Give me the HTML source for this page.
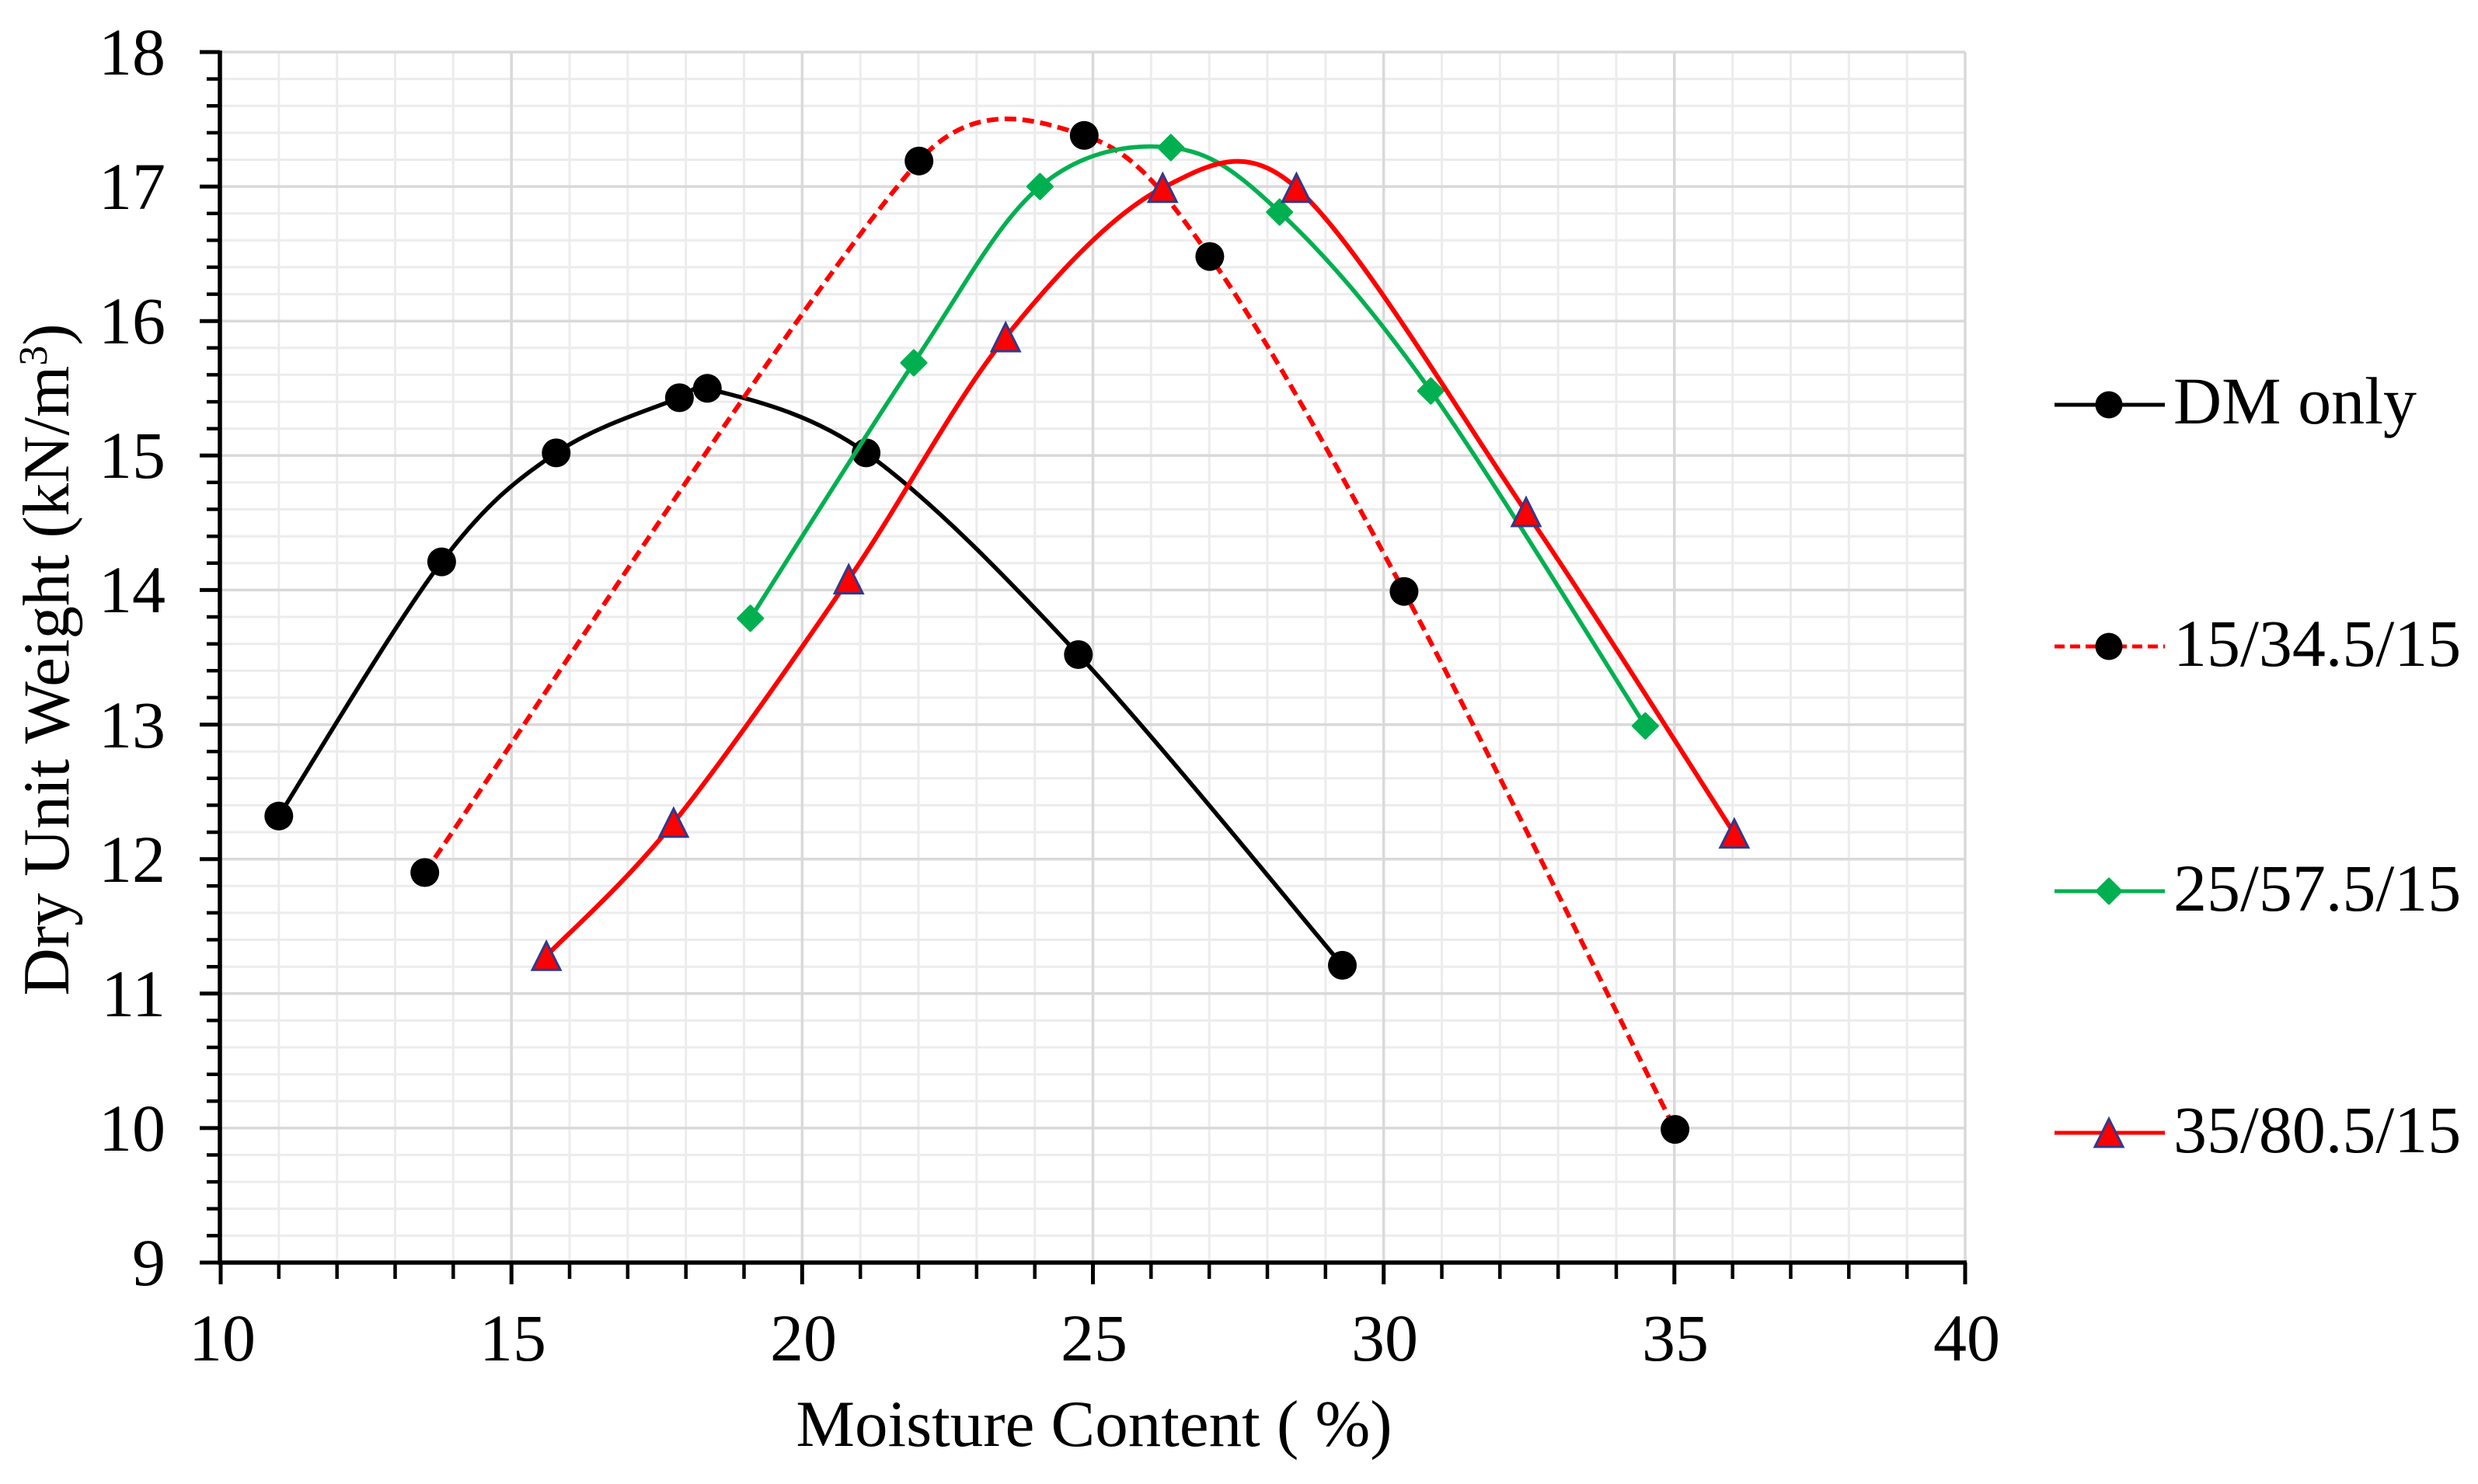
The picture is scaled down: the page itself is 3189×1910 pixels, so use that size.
<!DOCTYPE html>
<html>
<head>
<meta charset="utf-8">
<style>
  html, body { margin: 0; padding: 0; background: #ffffff; }
  svg { display: block; }
  text { font-family: "Liberation Serif", "Times New Roman", serif; fill: #000; }
</style>
</head>
<body>
<svg width="3189" height="1910" viewBox="0 0 3189 1910" xmlns="http://www.w3.org/2000/svg">
  <rect x="0" y="0" width="3189" height="1910" fill="#ffffff"/>

  <!-- minor horizontal gridlines -->
  <path fill="none" stroke="#ececec" stroke-width="3" d="
    M284 101.6H2529M284 136.2H2529M284 170.9H2529M284 205.5H2529
    M284 274.7H2529M284 309.3H2529M284 343.9H2529M284 378.6H2529
    M284 447.8H2529M284 482.4H2529M284 517.1H2529M284 551.7H2529
    M284 620.9H2529M284 655.5H2529M284 690.2H2529M284 724.8H2529
    M284 794.0H2529M284 828.7H2529M284 863.3H2529M284 897.9H2529
    M284 967.2H2529M284 1001.8H2529M284 1036.4H2529M284 1071.1H2529
    M284 1140.3H2529M284 1174.9H2529M284 1209.5H2529M284 1244.2H2529
    M284 1313.4H2529M284 1348.0H2529M284 1382.7H2529M284 1417.3H2529
    M284 1486.5H2529M284 1521.1H2529M284 1555.8H2529M284 1590.4H2529"/>
  <!-- minor vertical gridlines -->
  <path fill="none" stroke="#ececec" stroke-width="3" d="
    M358.8 67V1625M433.7 67V1625M508.5 67V1625M583.3 67V1625
    M733.0 67V1625M807.8 67V1625M882.7 67V1625M957.5 67V1625
    M1107.2 67V1625M1182.0 67V1625M1256.8 67V1625M1331.7 67V1625
    M1481.3 67V1625M1556.2 67V1625M1631.0 67V1625M1705.8 67V1625
    M1855.5 67V1625M1930.3 67V1625M2005.2 67V1625M2080.0 67V1625
    M2229.7 67V1625M2304.5 67V1625M2379.3 67V1625M2454.2 67V1625"/>
  <!-- major gridlines -->
  <path fill="none" stroke="#d9d9d9" stroke-width="3.5" d="
    M284 67H2529M284 240.1H2529M284 413.2H2529M284 586.3H2529M284 759.4H2529
    M284 932.6H2529M284 1105.7H2529M284 1278.8H2529M284 1451.9H2529
    M658.2 67V1625M1032.3 67V1625M1406.5 67V1625M1780.7 67V1625M2154.8 67V1625M2529 67V1625"/>

  <!-- axes -->
  <path fill="none" stroke="#000" stroke-width="5.5" d="M283 65V1627M280 1625H2531"/>
  <!-- y ticks major -->
  <path fill="none" stroke="#000" stroke-width="5" d="
    M257 67H283M257 240.1H283M257 413.2H283M257 586.3H283M257 759.4H283
    M257 932.6H283M257 1105.7H283M257 1278.8H283M257 1451.9H283M257 1625H283"/>
  <!-- y ticks minor -->
  <path fill="none" stroke="#000" stroke-width="4.5" d="
    M266 101.6H283M266 136.2H283M266 170.9H283M266 205.5H283
    M266 274.7H283M266 309.3H283M266 343.9H283M266 378.6H283
    M266 447.8H283M266 482.4H283M266 517.1H283M266 551.7H283
    M266 620.9H283M266 655.5H283M266 690.2H283M266 724.8H283
    M266 794.0H283M266 828.7H283M266 863.3H283M266 897.9H283
    M266 967.2H283M266 1001.8H283M266 1036.4H283M266 1071.1H283
    M266 1140.3H283M266 1174.9H283M266 1209.5H283M266 1244.2H283
    M266 1313.4H283M266 1348.0H283M266 1382.7H283M266 1417.3H283
    M266 1486.5H283M266 1521.1H283M266 1555.8H283M266 1590.4H283"/>
  <!-- x ticks major -->
  <path fill="none" stroke="#000" stroke-width="5" d="
    M284 1625V1653M658.2 1625V1653M1032.3 1625V1653M1406.5 1625V1653
    M1780.7 1625V1653M2154.8 1625V1653M2529 1625V1653"/>
  <!-- x ticks minor -->
  <path fill="none" stroke="#000" stroke-width="4.5" d="
    M358.8 1625V1646M433.7 1625V1646M508.5 1625V1646M583.3 1625V1646
    M733.0 1625V1646M807.8 1625V1646M882.7 1625V1646M957.5 1625V1646
    M1107.2 1625V1646M1182.0 1625V1646M1256.8 1625V1646M1331.7 1625V1646
    M1481.3 1625V1646M1556.2 1625V1646M1631.0 1625V1646M1705.8 1625V1646
    M1855.5 1625V1646M1930.3 1625V1646M2005.2 1625V1646M2080.0 1625V1646
    M2229.7 1625V1646M2304.5 1625V1646M2379.3 1625V1646M2454.2 1625V1646"/>

  <!-- y tick labels -->
  <g font-size="86" text-anchor="end">
    <text x="213" y="96">18</text>
    <text x="213" y="269">17</text>
    <text x="213" y="442">16</text>
    <text x="213" y="615">15</text>
    <text x="213" y="788">14</text>
    <text x="213" y="962">13</text>
    <text x="213" y="1135">12</text>
    <text x="213" y="1308">11</text>
    <text x="213" y="1481">10</text>
    <text x="213" y="1654">9</text>
  </g>
  <!-- x tick labels -->
  <g font-size="86" text-anchor="middle">
    <text x="286" y="1751">10</text>
    <text x="660" y="1751">15</text>
    <text x="1034" y="1751">20</text>
    <text x="1408" y="1751">25</text>
    <text x="1782" y="1751">30</text>
    <text x="2156" y="1751">35</text>
    <text x="2531" y="1751">40</text>
  </g>

  <!-- axis titles -->
  <text x="1408" y="1861" font-size="85" text-anchor="middle">Moisture Content ( %)</text>
  <text transform="translate(88,849) rotate(-90)" font-size="85" text-anchor="middle">Dry Unit Weight (kN/m<tspan font-size="52" dy="-28">3</tspan><tspan dy="28">)</tspan></text>

  <!-- Series 1: DM only -->
  <path fill="none" stroke="#000" stroke-width="5.5" stroke-linejoin="round" stroke-linecap="round"
    d="M358.8,1050.3 C393.7,995.8 508.9,801.0 568.4,723.1 C627.9,645.2 664.8,618.1 715.8,582.9 C766.8,547.7 842.0,525.75 874.4,511.9 C891.8,504.45 892.1,494.44 910.3,499.8 C950.3,511.6 1035.0,525.8 1114.6,582.9 C1194.2,640.0 1285.6,732.6 1387.8,842.5 C1490.0,952.4 1670.9,1175.75 1727.5,1242.4"/>
  <g fill="#000">
    <circle cx="358.8" cy="1050.3" r="18.5"/>
    <circle cx="568.4" cy="723.1" r="18.5"/>
    <circle cx="715.8" cy="582.9" r="18.5"/>
    <circle cx="874.4" cy="511.9" r="18.5"/>
    <circle cx="910.3" cy="499.8" r="18.5"/>
    <circle cx="1114.6" cy="582.9" r="18.5"/>
    <circle cx="1387.8" cy="842.5" r="18.5"/>
    <circle cx="1727.5" cy="1242.4" r="18.5"/>
  </g>

  <!-- Series 2: 15/34.5/15 -->
  <path fill="none" stroke="#ff0000" stroke-width="6" stroke-dasharray="15 8"
    d="M546.7,1123 C652.7,970.4 1041.3,365.3 1182.7,207.2 C1254.4,127.0 1332.9,153.8 1395.3,174.3 C1457.7,194.8 1492.5,238.3 1556.9,330.1 C1625.5,427.9 1707.1,573.95 1806.9,761.2 C1906.7,948.45 2097.5,1338.2 2155.6,1453.6"/>
  <g fill="#000">
    <circle cx="546.7" cy="1123" r="18.5"/>
    <circle cx="1182.7" cy="207.2" r="18.5"/>
    <circle cx="1395.3" cy="174.3" r="18.5"/>
    <circle cx="1556.9" cy="330.1" r="18.5"/>
    <circle cx="1806.9" cy="761.2" r="18.5"/>
    <circle cx="2155.6" cy="1453.6" r="18.5"/>
  </g>

  <!-- Series 3: 25/57.5/15 -->
  <path fill="none" stroke="#00b050" stroke-width="5.5" stroke-linejoin="round" stroke-linecap="round"
    d="M965.7,795.8 C1000.75,741.0 1113.9,559.5 1176,466.9 C1238.1,374.3 1283.3,286.3 1338.4,240.1 C1393.5,193.9 1455.4,184.4 1506.8,189.9 C1558.2,195.4 1590.95,220.8 1646.7,273 C1702.45,325.2 1762.85,393.0 1841.3,503.2 C1919.75,613.4 2071.4,862.45 2117.4,934.3"/>
  <g fill="#00b050" stroke="#00b050" stroke-width="3" stroke-linejoin="round">
    <polygon points="965.7,779.8 981.7,795.8 965.7,811.8 949.7,795.8"/>
    <polygon points="1176,450.9 1192,466.9 1176,482.9 1160,466.9"/>
    <polygon points="1338.4,224.1 1354.4,240.1 1338.4,256.1 1322.4,240.1"/>
    <polygon points="1506.8,173.9 1522.8,189.9 1506.8,205.9 1490.8,189.9"/>
    <polygon points="1646.7,257 1662.7,273 1646.7,289 1630.7,273"/>
    <polygon points="1841.3,487.2 1857.3,503.2 1841.3,519.2 1825.3,503.2"/>
    <polygon points="2117.4,918.3 2133.4,934.3 2117.4,950.3 2101.4,934.3"/>
  </g>

  <!-- Series 4: 35/80.5/15 -->
  <path fill="none" stroke="#ff0000" stroke-width="6" stroke-linejoin="round" stroke-linecap="round"
    d="M703.1,1230.3 C730.4,1201.7 802.05,1139.7 866.9,1058.9 C931.75,978.1 1021.0,849.75 1092.2,745.6 C1163.4,641.45 1226.85,517.97 1294.2,434 C1361.55,350.03 1433.9,273.8 1496.3,241.8 C1558.7,209.8 1604.2,184.5 1668.4,241.8 C1746.35,311.3 1870.1,520.5 1964,659 C2057.9,797.5 2187.25,1003.83 2231.9,1072.8"/>
  <g fill="#ff0000" stroke="#2e3a8c" stroke-width="3" stroke-linejoin="miter">
    <polygon points="703.1,1212.3 721.1,1248.3 685.1,1248.3"/>
    <polygon points="866.9,1040.9 884.9,1076.9 848.9,1076.9"/>
    <polygon points="1092.2,727.6 1110.2,763.6 1074.2,763.6"/>
    <polygon points="1294.2,416 1312.2,452 1276.2,452"/>
    <polygon points="1496.3,223.8 1514.3,259.8 1478.3,259.8"/>
    <polygon points="1668.4,223.8 1686.4,259.8 1650.4,259.8"/>
    <polygon points="1964,641 1982,677 1946,677"/>
    <polygon points="2231.9,1054.8 2249.9,1090.8 2213.9,1090.8"/>
  </g>

  <!-- Legend -->
  <g>
    <line x1="2644" y1="521" x2="2786" y2="521" stroke="#000" stroke-width="5"/>
    <circle cx="2714" cy="521" r="17.5" fill="#000"/>
    <text x="2797" y="545" font-size="86">DM only</text>

    <line x1="2644" y1="832" x2="2786" y2="832" stroke="#ff0000" stroke-width="5" stroke-dasharray="13 7"/>
    <circle cx="2714" cy="832" r="17.5" fill="#000"/>
    <text x="2797" y="857" font-size="86">15/34.5/15</text>

    <line x1="2644" y1="1147" x2="2786" y2="1147" stroke="#00b050" stroke-width="5"/>
    <polygon points="2714,1131 2730,1147 2714,1163 2698,1147" fill="#00b050" stroke="#00b050" stroke-width="3" stroke-linejoin="round"/>
    <text x="2797" y="1172" font-size="86">25/57.5/15</text>

    <line x1="2644" y1="1458" x2="2786" y2="1458" stroke="#ff0000" stroke-width="5"/>
    <polygon points="2714,1440 2732,1476 2696,1476" fill="#ff0000" stroke="#2e3a8c" stroke-width="3"/>
    <text x="2797" y="1483" font-size="86">35/80.5/15</text>
  </g>
</svg>
</body>
</html>
